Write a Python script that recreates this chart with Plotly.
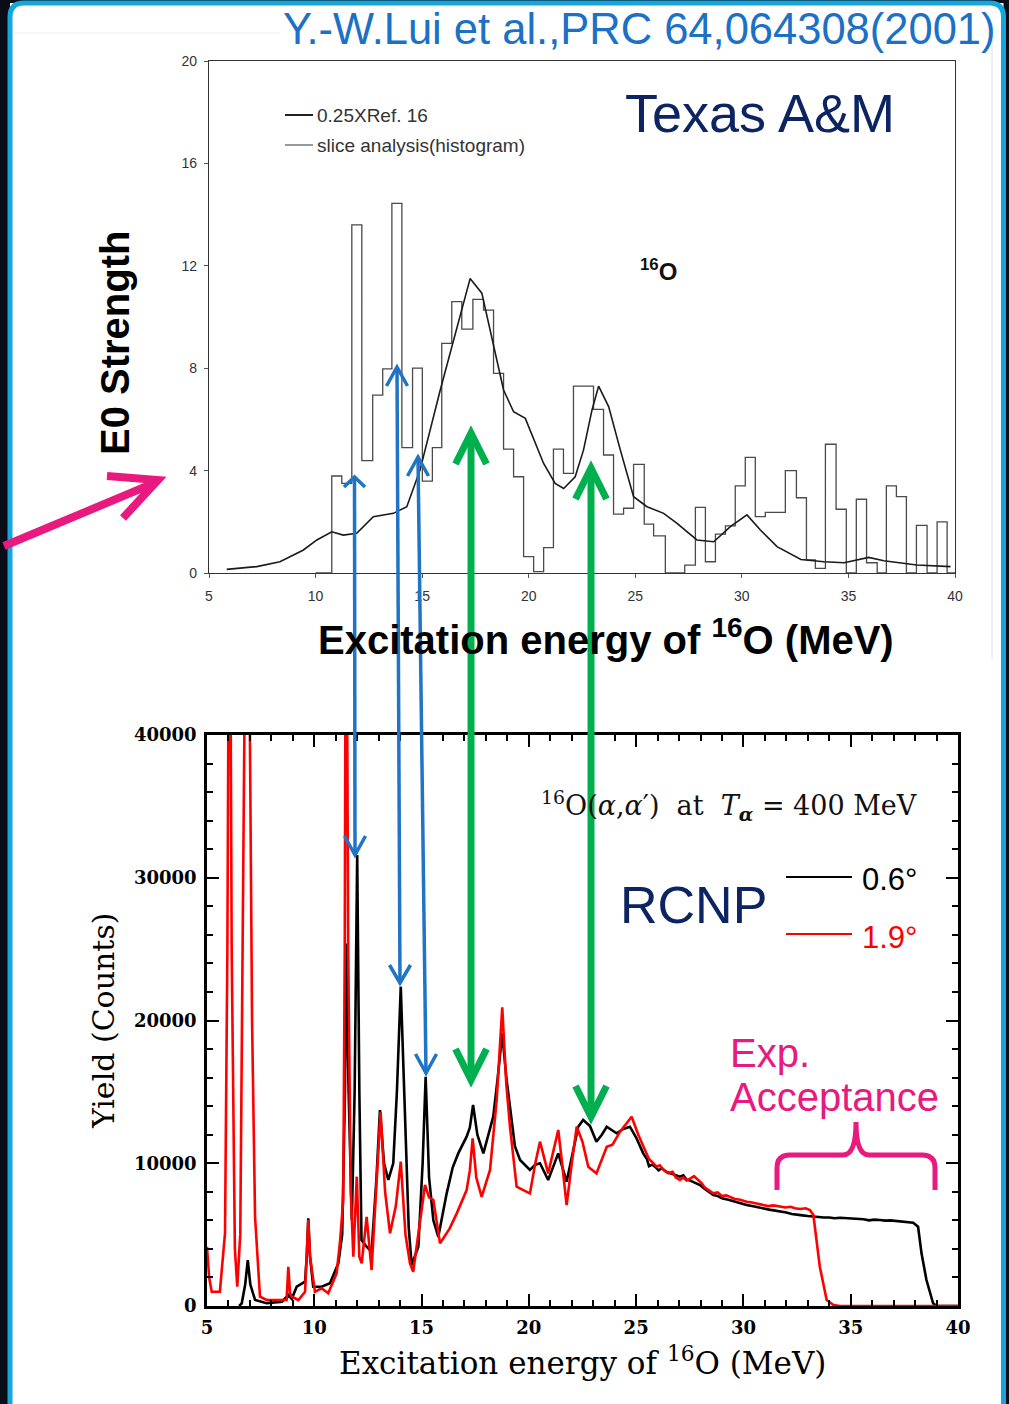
import plotly.graph_objects as go

W, H = 1009, 1404

# ---------------- Data: upper panel (Texas A&M, E0 strength) ----------------
ref_x = [5.83, 7.24, 8.33, 9.43, 10.06, 10.76, 11.3, 11.93, 12.71, 13.65, 14.28, 14.9, 15.85,
         16.78, 17.25, 17.8, 18.35, 18.82, 19.29, 19.84, 20.7, 21.24, 21.64, 22.18, 22.57,
         22.97, 23.28, 23.75, 24.3, 24.92, 25.55, 26.33, 26.96, 27.89, 28.68, 29.46, 30.24,
         30.87, 31.65, 32.77, 33.85, 34.8, 35.95, 36.66, 38.2, 39.79]
ref_y = [0.14, 0.25, 0.44, 0.9, 1.29, 1.61, 1.48, 1.55, 2.2, 2.33, 2.59, 4.02, 7.15,
         10.0, 11.5, 10.93, 8.84, 7.15, 6.3, 6.04, 4.28, 3.5, 3.3, 3.76, 4.8,
         6.37, 7.3, 6.5, 4.8, 2.98, 2.59, 2.33, 1.94, 1.29, 1.22, 1.81, 2.27,
         1.68, 1.03, 0.53, 0.44, 0.4, 0.61, 0.48, 0.31, 0.25]

hist_edges = [10.76, 11.23, 11.70, 12.17, 12.68, 13.15, 13.58, 14.05, 14.55, 15.01, 15.48,
              15.92, 16.39, 16.86, 17.38, 17.88, 18.35, 18.82, 19.29, 19.76, 20.23, 20.70,
              21.16, 21.63, 22.10, 22.57, 23.04, 23.51, 23.98, 24.45, 24.92, 25.42, 25.86,
              26.41, 26.87, 27.32, 27.82, 28.29, 28.76, 29.23, 29.69, 30.16, 30.63, 31.10,
              31.57, 32.04, 32.56, 33.03, 33.45, 33.92, 34.42, 34.90, 35.37, 35.85, 36.35,
              36.78, 37.25, 37.72, 38.19, 38.69, 39.16, 39.63]
hist_vals = [3.79, 3.5, 13.6, 4.39, 6.95, 7.97, 14.44, 4.9, 8.0, 3.59,
             4.9, 8.97, 10.6, 9.53, 10.69, 10.27, 7.8, 4.84, 3.76, 0.64,
             0.05, 0.99, 4.84, 3.89, 7.3, 7.3, 6.39, 4.61, 2.3, 2.53,
             4.24, 1.91, 1.45, 0.0, 0.0, 0.31, 2.56, 0.44, 1.52, 1.84,
             3.4, 4.52, 2.2, 2.37, 2.37, 4.0, 2.94, 0.51, 0.18, 5.03,
             2.49, 0.0, 2.88, 0.4, 0.0, 3.4, 2.98, 0.0, 1.86, 0.0, 2.0]

top_xticks = [5, 10, 15, 20, 25, 30, 35, 40]
top_yticks = [0, 4, 8, 12, 16, 20]

# ---------------- Data: lower panel (RCNP spectra) ----------------
black_x = [6.5, 6.62, 6.78, 6.9, 7.02, 7.24, 7.78, 8.5, 8.79, 8.95, 9.18, 9.57, 9.65, 9.72, 9.8,
           9.95, 10.34, 10.73, 11.12, 11.3, 11.43, 11.48, 11.6, 11.75, 11.88, 12.0, 12.1, 12.2,
           12.44, 12.67, 12.9, 13.06, 13.25, 13.45, 13.68, 13.85, 14.03, 14.2, 14.4, 14.54,
           14.85, 15.05, 15.19, 15.35, 15.55, 15.78, 16.17, 16.45, 16.71, 17.1, 17.25, 17.4,
           17.6, 17.88, 18.34, 18.55, 18.76, 18.95, 19.12, 19.35, 19.59, 20.05, 20.3, 20.52,
           20.9, 21.15, 21.37, 21.76, 22.0, 22.3, 22.53, 22.85, 23.15, 23.4, 23.63, 24.09,
           24.4, 24.71, 25.0, 25.15, 25.33, 25.5, 25.6, 25.75, 25.88, 26.05, 26.2, 26.4, 26.6,
           26.8, 27.04, 27.2, 27.35, 27.5, 27.65, 27.82, 28.0, 28.2, 28.4, 28.6, 28.8, 29.0,
           29.3, 29.5, 29.8, 30.15, 30.4, 30.65, 30.9, 31.2, 31.45, 31.7, 32.0, 32.25, 32.5,
           32.75, 33.0, 33.26, 33.5, 33.75, 34.0, 34.25, 34.5, 34.81, 35.1, 35.35, 35.6, 35.85,
           36.1, 36.36, 36.6, 36.85, 37.1, 37.35, 37.6, 37.91, 38.14, 38.3, 38.53, 38.84,
           39.0, 40.0]
black_y = [0, 190, 1500, 3220, 1500, 420, 200, 300, 770, 500, 1350, 1700, 3500, 6140, 3500,
           1350, 1350, 1590, 2990, 5000, 15000, 25400, 15000, 6020, 15000, 31600, 15000, 4620,
           4150, 3800, 9000, 13730, 10000, 8830, 10000, 15000, 22370, 14000, 5500, 2870,
           4150, 10000, 16060, 9000, 6000, 4850, 7890, 9700, 10690, 11860, 12500, 14080,
           12000, 10690, 13260, 16000, 19090, 16000, 13970, 11200, 10230, 9530, 9900, 10000,
           8830, 9800, 10690, 8710, 10500, 12560, 13030, 12600, 11510, 12000, 12560, 12100,
           12400, 12560, 11800, 11300, 10690, 10300, 9800, 9900, 9760, 9500, 9650, 9400, 9300,
           9150, 9060, 9150, 8850, 8800, 8700, 8590, 8450, 8200, 8000, 7770, 7700, 7550,
           7450, 7350, 7250, 7070, 7000, 6900, 6850, 6750, 6700, 6600, 6550, 6450, 6420,
           6350, 6300, 6250, 6250, 6200, 6200, 6150, 6180, 6140, 6100, 6120, 6080, 6000,
           6050, 6020, 5980, 6000, 5950, 5920, 5900, 5830, 5550, 3690, 1820, 190,
           0, 0]

red_x = [5.0, 5.1, 5.22, 5.6, 5.84, 5.95, 6.05, 6.15, 6.3, 6.41, 6.55, 6.7, 6.85, 7.0, 7.1,
         7.24, 7.47, 7.78, 8.71, 8.79, 8.87, 8.95, 9.26, 9.57, 9.65, 9.72, 9.8, 10.03, 10.34,
         10.65, 11.04, 11.2, 11.35, 11.42, 11.48, 11.58, 11.7, 11.82, 11.98, 12.1, 12.21,
         12.44, 12.67, 12.9, 13.09, 13.3, 13.53, 13.8, 14.03, 14.25, 14.46, 14.61, 14.9,
         15.16, 15.35, 15.55, 15.86, 16.3, 16.64, 17.1, 17.25, 17.38, 17.55, 17.8, 18.19,
         18.5, 18.76, 18.95, 19.12, 19.43, 19.74, 20.05, 20.3, 20.52, 20.9, 21.15, 21.37,
         21.55, 21.76, 22.0, 22.23, 22.5, 22.77, 23.15, 23.63, 23.9, 24.25, 24.79, 25.1,
         25.41, 25.6, 25.8, 25.96, 26.1, 26.3, 26.5, 26.7, 26.85, 27.04, 27.2, 27.35, 27.5,
         27.7, 27.89, 28.05, 28.2, 28.4, 28.6, 28.8, 29.0, 29.2, 29.4, 29.6, 29.85, 30.15,
         30.4, 30.65, 30.9, 31.15, 31.4, 31.7, 31.95, 32.2, 32.4, 32.65, 32.9, 33.1,
         33.26, 33.56, 33.88, 34.2, 34.5, 40.0]
red_y = [4150, 2000, 1000, 1000, 5110, 25000, 60000, 25000, 4000, 1350, 5000, 30000, 60000,
         40000, 20000, 6250, 650, 420, 420, 2750, 900, 650, 420, 1000, 3500, 6020, 3500, 1000,
         1240, 890, 2290, 4500, 7420, 25000, 60000, 25000, 8000, 3450, 9060, 3450, 2990,
         6250, 2520, 9000, 13610, 8000, 5090, 7000, 10110, 5000, 2990, 2400, 5500,
         8480, 7600, 7420, 4390, 5400, 6490, 8120, 9500, 11740, 9000, 7650, 9530,
         14430, 20920, 15500, 12560, 8360, 8120, 7890, 10000, 11510, 9290, 11000, 12330,
         10000, 7070, 10000, 12560, 11500, 9760, 9290, 11160, 11300, 12210, 13260, 12000,
         10930, 10300, 10000, 9760, 9850, 9500, 9300, 9400, 9000, 8830, 9000, 8800, 8900,
         9100, 8830, 8600, 8300, 8100, 7890, 7950, 7700, 7750, 7600, 7500, 7450, 7300,
         7250, 7150, 7100, 7000, 7050, 6960, 6900, 6950, 6850, 6800, 6850, 6720,
         6370, 2750, 420, 70, 0, 0]

# ---------------- helpers (pixel -> paper) ----------------
def fx(x):
    return x / W

def fy(y):
    return 1 - y / H

shapes = []
annotations = []

def seg(x0, y0, x1, y1, color, width, layer="above"):
    shapes.append(dict(type="line", xref="paper", yref="paper", x0=fx(x0), y0=fy(y0),
                       x1=fx(x1), y1=fy(y1), line=dict(color=color, width=width), layer=layer))

def poly(points, color, width, layer="above"):
    d = "M " + " L ".join(f"{fx(x):.5f},{fy(y):.5f}" for x, y in points)
    shapes.append(dict(type="path", xref="paper", yref="paper", path=d,
                       line=dict(color=color, width=width), layer=layer))

def text(x, y, t, size, color, family="Liberation Sans, Arial", xanchor="left",
         yanchor="middle", angle=0, weight="normal"):
    annotations.append(dict(xref="paper", yref="paper", x=fx(x), y=fy(y), text=t,
                            showarrow=False, xanchor=xanchor, yanchor=yanchor,
                            textangle=angle, borderpad=0,
                            font=dict(size=size, color=color, family=family, weight=weight)))

# ---------------- background frame (kept inside the page) ----------------
BLUE_FRAME = "#15a6dd"
r = 14
x0, y0, x1, y1 = 10, 3, 1003.5, 1404
shapes.append(dict(type="rect", xref="paper", yref="paper", x0=fx(x0), y0=fy(y1), x1=fx(x1),
                   y1=fy(y0), fillcolor="white", line=dict(width=0), layer="below"))
frame = (f"M {fx(x0)},{fy(y1)} L {fx(x0)},{fy(y0 + r)} Q {fx(x0)},{fy(y0)} {fx(x0 + r)},{fy(y0)} "
         f"L {fx(x1 - r)},{fy(y0)} Q {fx(x1)},{fy(y0)} {fx(x1)},{fy(y0 + r)} L {fx(x1)},{fy(y1)}")
shapes.append(dict(type="path", xref="paper", yref="paper", path=frame,
                   line=dict(color=BLUE_FRAME, width=5), layer="below"))
# faint edges of the pasted upper figure
seg(992, 40, 992, 660, "#e2e2e2", 1, layer="below")
seg(13, 33, 280, 33, "#ededed", 1, layer="below")

# ---------------- traces ----------------
fig = go.Figure()

hx = [10.0] + hist_edges + [40.0]
hy = [0.0] + hist_vals + [0.0, 0.0]
fig.add_trace(go.Scatter(x=hx, y=hy, mode="lines", line=dict(color="#4a4a4a", width=1.3, shape="hv"),
                         xaxis="x", yaxis="y", showlegend=False, hoverinfo="skip"))
fig.add_trace(go.Scatter(x=ref_x, y=ref_y, mode="lines", line=dict(color="#1a1a1a", width=1.6),
                         xaxis="x", yaxis="y", showlegend=False, hoverinfo="skip"))

fig.add_trace(go.Scatter(x=black_x, y=black_y, mode="lines", line=dict(color="black", width=2.6),
                         xaxis="x2", yaxis="y2", showlegend=False, hoverinfo="skip"))
fig.add_trace(go.Scatter(x=red_x, y=red_y, mode="lines", line=dict(color="#ff0000", width=2.6),
                         xaxis="x2", yaxis="y2", showlegend=False, hoverinfo="skip"))

# ---------------- axes ----------------
top_font = dict(family="Liberation Sans, Arial", size=14, color="#333333")
serif_bold = dict(family="DejaVu Serif", size=18, color="black", weight="bold")

layout = dict(
    template="none",
    width=W, height=H, margin=dict(l=0, r=0, t=0, b=0, pad=0, autoexpand=False),
    paper_bgcolor="#0a0d16", plot_bgcolor="rgba(0,0,0,0)",
    showlegend=False,
    xaxis=dict(domain=[fx(209), fx(955)], range=[5, 40], tickvals=top_xticks, automargin=False,
               ticks="outside", ticklen=4, tickcolor="#555", tickwidth=1,
               showline=True, linecolor="#333", linewidth=1.2, mirror=True,
               showgrid=False, zeroline=False, tickfont=top_font, anchor="y",
               ticklabelstandoff=6),
    yaxis=dict(domain=[fy(573), fy(61)], range=[0, 20], tickvals=top_yticks, automargin=False,
               ticks="outside", ticklen=4, tickcolor="#555", tickwidth=1,
               showline=True, linecolor="#333", linewidth=1.2, mirror=True,
               showgrid=False, zeroline=False, tickfont=top_font, anchor="x",
               ticklabelstandoff=4),
    xaxis2=dict(domain=[fx(207), fx(958)], range=[5, 40], tick0=5, dtick=5, automargin=False,
                ticks="inside", ticklen=12, tickwidth=2, tickcolor="black",
                minor=dict(dtick=1, ticklen=6, tickwidth=1.6, ticks="inside", tickcolor="black"),
                showline=True, linecolor="black", linewidth=2.5, mirror="allticks",
                showgrid=False, zeroline=False, tickfont=serif_bold, anchor="y2",
                ticklabelstandoff=4),
    yaxis2=dict(domain=[fy(1306), fy(735)], range=[0, 40000], tick0=0, dtick=10000,
                tickformat="d", automargin=False,
                ticks="inside", ticklen=12, tickwidth=2, tickcolor="black",
                minor=dict(dtick=2000, ticklen=6, tickwidth=1.6, ticks="inside", tickcolor="black"),
                showline=True, linecolor="black", linewidth=2.5, mirror="allticks",
                showgrid=False, zeroline=False, tickfont=serif_bold, anchor="x2",
                ticklabelstandoff=4),
)

# ---------------- upper panel decorations ----------------
seg(285, 115, 313, 115, "#222", 2)
seg(285, 145, 313, 145, "#555", 1.2)
text(316, 115, "0.25XRef. 16", 19, "#333")
text(316, 145, "slice analysis(histogram)", 19, "#333")
text(639, 270, "<sup>16</sup>O", 24, "#111", weight="bold")
NAVY = "#0c2462"
text(624, 113, "Texas A&M", 54, NAVY)
text(282, 29, "Y.-W.Lui et al.,PRC 64,064308(2001)", 43.5, "#1c70c6")
text(115, 343, "E0 Strength", 40, "black", angle=-90, xanchor="center", weight="bold")
text(606, 637, "Excitation energy of <sup>16</sup>O (MeV)", 40, "black", xanchor="center",
     weight="bold")

# ---------------- lower panel decorations ----------------
SER = "DejaVu Serif"
text(540, 805, "<sup>16</sup>O(<i>α</i>,<i>α</i>′)&nbsp; at&nbsp; <i>T</i><sub><b><i>α</i></b></sub> = 400 MeV",
     27, "#111", family=SER)
text(619, 905, "RCNP", 52, NAVY)
seg(786, 877, 852, 877, "black", 2)
seg(786, 934, 852, 934, "#ff0000", 2)
text(861, 880, "0.6°", 31, "black")
text(861, 937, "1.9°", 31, "#ff0000")
PINK = "#e8197f"
text(729, 1053, "Exp.", 40, PINK)
text(729, 1097, "Acceptance", 40, PINK)
text(103, 1021, "Yield (Counts)", 30, "black", family=SER, angle=-90, xanchor="center")
text(582, 1361, "Excitation energy of <sup>16</sup>O (MeV)", 31, "black", family=SER,
     xanchor="center")

brace = (f"M {fx(777)},{fy(1190)} L {fx(777)},{fy(1168)} Q {fx(777)},{fy(1155)} {fx(790)},{fy(1155)} "
         f"L {fx(843)},{fy(1155)} Q {fx(856)},{fy(1155)} {fx(856)},{fy(1122)} "
         f"Q {fx(856)},{fy(1155)} {fx(869)},{fy(1155)} L {fx(922)},{fy(1155)} "
         f"Q {fx(935)},{fy(1155)} {fx(935)},{fy(1168)} L {fx(935)},{fy(1190)}")
shapes.append(dict(type="path", xref="paper", yref="paper", path=brace,
                   line=dict(color=PINK, width=5), layer="above"))

# ---------------- connecting arrows ----------------
BLUE_A = "#1f74c6"
GREEN = "#00b04f"
for (tx, ty, bx, by, tw, bw) in [
    (354.5, 477, 355, 855, 10, 19),
    (397, 367, 400, 983, 19, 18),
    (418, 457, 426, 1073, 19, 19),
]:
    seg(tx, ty, bx, by, BLUE_A, 3.5)
    poly([(tx - 10.5, ty + tw), (tx, ty), (tx + 10.5, ty + tw)], BLUE_A, 3.5)
    poly([(bx - 10.5, by - bw), (bx, by), (bx + 10.5, by - bw)], BLUE_A, 3.5)

for (tx, ty, bx, by) in [(471, 433, 471, 1080), (591, 468, 591, 1117)]:
    seg(tx, ty + 3, bx, by - 3, GREEN, 7)
    poly([(tx - 15.5, ty + 31), (tx, ty), (tx + 15.5, ty + 31)], GREEN, 7)
    poly([(bx - 15.5, by - 31), (bx, by), (bx + 15.5, by - 31)], GREEN, 7)

seg(4, 546, 152, 484, PINK, 8)
poly([(107, 476), (158, 480), (123, 518)], PINK, 8)

layout["shapes"] = shapes
layout["annotations"] = annotations
fig.update_layout(**layout)

fig.write_html("out.html")
